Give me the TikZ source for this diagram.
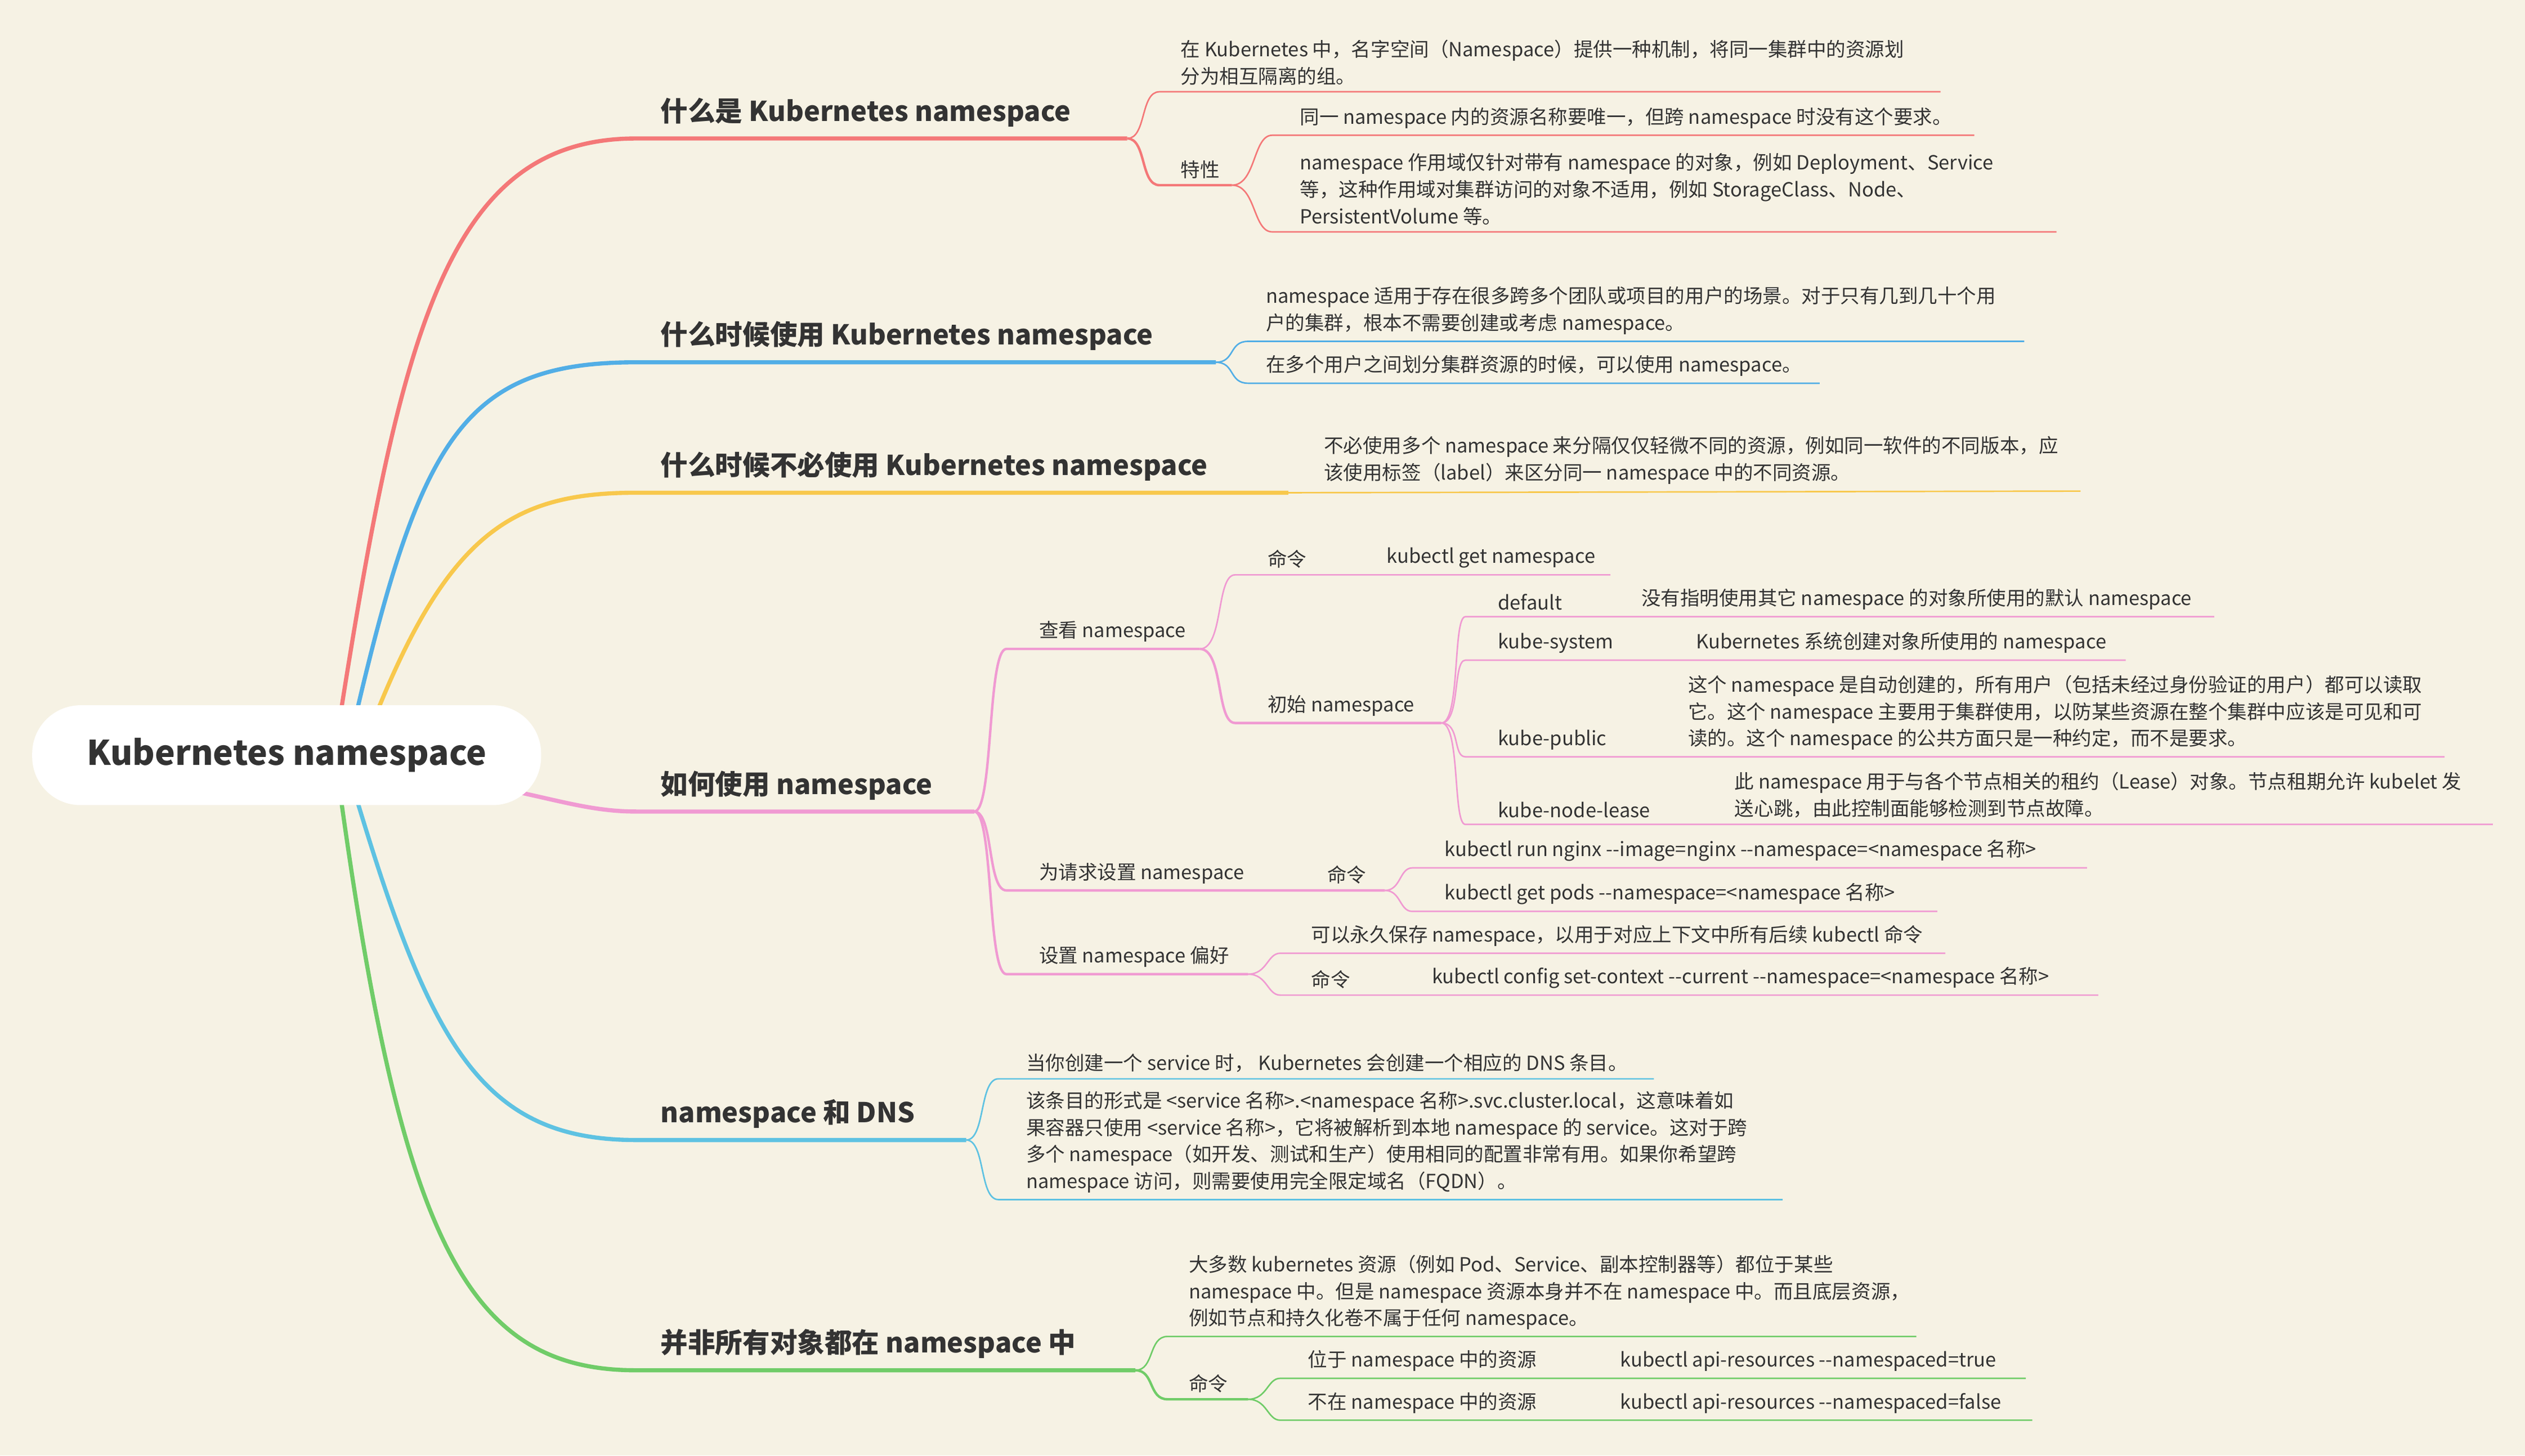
\documentclass[tikz,border=0pt]{standalone}
\usepackage{fontspec}
\setmainfont{Noto Sans CJK SC}
\definecolor{paper}{HTML}{F6F2E4}
\definecolor{cA}{HTML}{F47878}
\definecolor{cB}{HTML}{52AEE6}
\definecolor{cC}{HTML}{F8C84C}
\definecolor{cD}{HTML}{F09AD2}
\definecolor{cE}{HTML}{5EC2E2}
\definecolor{cF}{HTML}{70CC68}
\begin{document}
\begin{tikzpicture}[x=0.03cm,y=-0.03cm,
  lf/.style={inner sep=0pt,anchor=south west,align=left,font=\fontsize{10.3}{14.2}\selectfont,text=black!80,yshift=0.06cm},
  tp/.style={inner sep=0pt,anchor=south west,font=\fontsize{14.5}{17}\selectfont\bfseries,text=black!80,yshift=0.06cm},
  root/.style={fill=white,rounded corners=0.9cm,minimum width=9.48cm,minimum height=1.86cm,font=\fontsize{18}{20}\selectfont\bfseries,text=black!80},
  twig/.style={line width=0.8pt},
  limb/.style={line width=1.3pt},
  trunk/.style={line width=2.2pt}]
\fill[paper] (0,0) rectangle (1568,904);

% root
\draw[trunk,cA] (212,440) .. controls (250,200) and (280,86) .. (395,86) -- (700,86) coordinate (t1e);
\draw[trunk,cB] (222,440) .. controls (262,270) and (290,225) .. (395,225) -- (755,225) coordinate (t2e);
\draw[trunk,cC] (235,440) .. controls (280,330) and (320,306) .. (395,306) -- (800,306) coordinate (t3e);
\draw[trunk,cD] (322,492) .. controls (350,498) and (370,504) .. (395,504) -- (605,504) coordinate (t4e);
\draw[trunk,cE] (222,498) .. controls (268,650) and (300,708) .. (395,708) -- (600,708) coordinate (t5e);
\draw[trunk,cF] (212,498) .. controls (250,770) and (290,851) .. (395,851) -- (705,851) coordinate (t6e);
\node[root] (root) at (178,469) {Kubernetes namespace};

% topics
\node[tp] (t1) at (410,81) {什么是 Kubernetes namespace};
\node[tp] (t2) at (410,220) {什么时候使用 Kubernetes namespace};
\node[tp] (t3) at (410,301) {什么时候不必使用 Kubernetes namespace};
\node[tp] (t4) at (410,499) {如何使用 namespace};
\node[tp] (t5) at (410,703) {namespace 和 DNS};
\node[tp] (t6) at (410,846) {并非所有对象都在 namespace 中};

% topic 1
\draw[twig,cA] (t1e) .. controls +(12,0) and +(-12,0) .. (720,57) -- (1205,57);
\node[lf] (a1) at (733,55) {在 Kubernetes 中，名字空间（Namespace）提供一种机制，将同一集群中的资源划\\分为相互隔离的组。};
\draw[limb,cA] (t1e) .. controls +(12,0) and +(-12,0) .. (720,115) -- (765,115) coordinate (a2e);
\node[lf] (a2) at (733,113) {特性};
\draw[twig,cA] (a2e) .. controls +(15,0) and +(-12,0) .. (790,84) -- (1226,84);
\node[lf] (a21) at (807,82) {同一 namespace 内的资源名称要唯一，但跨 namespace 时没有这个要求。};
\draw[twig,cA] (a2e) .. controls +(15,0) and +(-12,0) .. (790,144) -- (1277,144);
\node[lf] (a22) at (807,142) {namespace 作用域仅针对带有 namespace 的对象，例如 Deployment、Service\\等，这种作用域对集群访问的对象不适用，例如 StorageClass、Node、\\PersistentVolume 等。};

% topic 2
\draw[twig,cB] (t2e) .. controls +(12,0) and +(-12,0) .. (775,212) -- (1257,212);
\node[lf] (b1) at (786,210) {namespace 适用于存在很多跨多个团队或项目的用户的场景。对于只有几到几十个用\\户的集群，根本不需要创建或考虑 namespace。};
\draw[twig,cB] (t2e) .. controls +(12,0) and +(-12,0) .. (775,238) -- (1130,238);
\node[lf] (b2) at (786,236) {在多个用户之间划分集群资源的时候，可以使用 namespace。};

% topic 3
\draw[twig,cC] (t3e) -- (1292,305);
\node[lf] (c1) at (822,303) {不必使用多个 namespace 来分隔仅仅轻微不同的资源，例如同一软件的不同版本，应\\该使用标签（label）来区分同一 namespace 中的不同资源。};

% topic 4
\draw[limb,cD] (t4e) .. controls +(12,0) and +(-12,0) .. (625,403) -- (745,403) coordinate (d1e);
\node[lf] (d1) at (645,401) {查看 namespace};
\draw[twig,cD] (d1e) .. controls +(15,0) and +(-12,0) .. (767,357) -- (845,357) -- (1000,357);
\node[lf] (d11) at (787,355) {命令};
\node[lf] (d11k) at (861,355) {kubectl get namespace};
\draw[limb,cD] (d1e) .. controls +(15,0) and +(-12,0) .. (767,449) -- (895,449) coordinate (d12e);
\node[lf] (d12) at (787,447) {初始 namespace};
\draw[twig,cD] (d12e) .. controls +(12,0) and +(-8,0) .. (910,383) -- (1375,383);
\node[lf] (e1) at (930,381) {default};
\node[lf] (e1t) at (1019,381) {没有指明使用其它 namespace 的对象所使用的默认 namespace};
\draw[twig,cD] (d12e) .. controls +(12,0) and +(-8,0) .. (910,410) -- (1320,410);
\node[lf] (e2) at (930,408) {kube-system};
\node[lf] (e2t) at (1053,408) {Kubernetes 系统创建对象所使用的 namespace};
\draw[twig,cD] (d12e) .. controls +(12,0) and +(-8,0) .. (910,470) -- (1518,470);
\node[lf] (e3) at (930,468) {kube-public};
\node[lf] (e3t) at (1048,468) {这个 namespace 是自动创建的，所有用户（包括未经过身份验证的用户）都可以读取\\它。这个 namespace 主要用于集群使用，以防某些资源在整个集群中应该是可见和可\\读的。这个 namespace 的公共方面只是一种约定，而不是要求。};
\draw[twig,cD] (d12e) .. controls +(12,0) and +(-8,0) .. (910,512) -- (1548,512);
\node[lf] (e4) at (930,510) {kube-node-lease};
\node[lf] (e4t) at (1077,510) {此 namespace 用于与各个节点相关的租约（Lease）对象。节点租期允许 kubelet 发\\送心跳，由此控制面能够检测到节点故障。};
\draw[limb,cD] (t4e) .. controls +(12,0) and +(-12,0) .. (625,553) -- (860,553) coordinate (d2e);
\node[lf] (d2) at (645,551) {为请求设置 namespace};
\node[lf] (d2c) at (824,551) {命令};
\draw[twig,cD] (d2e) .. controls +(10,0) and +(-8,0) .. (877,539) -- (1296,539);
\node[lf] (f1) at (897,537) {kubectl run nginx -{}-image=nginx -{}-namespace=<namespace 名称>};
\draw[twig,cD] (d2e) .. controls +(10,0) and +(-8,0) .. (877,566) -- (1203,566);
\node[lf] (f2) at (897,564) {kubectl get pods -{}-namespace=<namespace 名称>};
\draw[limb,cD] (t4e) .. controls +(12,0) and +(-12,0) .. (625,605) -- (775,605) coordinate (d3e);
\node[lf] (d3) at (645,603) {设置 namespace 偏好};
\draw[twig,cD] (d3e) .. controls +(12,0) and +(-8,0) .. (795,592) -- (1208,592);
\node[lf] (g1) at (814,590) {可以永久保存 namespace，以用于对应上下文中所有后续 kubectl 命令};
\draw[twig,cD] (d3e) .. controls +(12,0) and +(-8,0) .. (795,618) -- (870,618) -- (1303,618);
\node[lf] (g2) at (814,616) {命令};
\node[lf] (g2k) at (889,616) {kubectl config set-context -{}-current -{}-namespace=<namespace 名称>};

% topic 5
\draw[twig,cE] (t5e) .. controls +(12,0) and +(-12,0) .. (620,670) -- (1027,670);
\node[lf] (h1) at (637,668) {当你创建一个 service 时， Kubernetes 会创建一个相应的 DNS 条目。};
\draw[twig,cE] (t5e) .. controls +(12,0) and +(-12,0) .. (620,745) -- (1107,745);
\node[lf] (h2) at (637,743) {该条目的形式是 <service 名称>.<namespace 名称>.svc.cluster.local，这意味着如\\果容器只使用 <service 名称>，它将被解析到本地 namespace 的 service。这对于跨\\多个 namespace（如开发、测试和生产）使用相同的配置非常有用。如果你希望跨\\namespace 访问，则需要使用完全限定域名（FQDN）。};

% topic 6
\draw[twig,cF] (t6e) .. controls +(12,0) and +(-12,0) .. (725,830) -- (1190,830);
\node[lf] (k1) at (738,828) {大多数 kubernetes 资源（例如 Pod、Service、副本控制器等）都位于某些\\namespace 中。但是 namespace 资源本身并不在 namespace 中。而且底层资源，\\例如节点和持久化卷不属于任何 namespace。};
\draw[limb,cF] (t6e) .. controls +(12,0) and +(-12,0) .. (725,869) -- (775,869) coordinate (k2e);
\node[lf] (k2) at (738,867) {命令};
\draw[twig,cF] (k2e) .. controls +(12,0) and +(-8,0) .. (795,856) -- (990,856) -- (1258,856);
\node[lf] (k21) at (812,854) {位于 namespace 中的资源};
\node[lf] (k21k) at (1006,854) {kubectl api-resources -{}-namespaced=true};
\draw[twig,cF] (k2e) .. controls +(12,0) and +(-8,0) .. (795,882) -- (990,882) -- (1262,882);
\node[lf] (k22) at (812,880) {不在 namespace 中的资源};
\node[lf] (k22k) at (1006,880) {kubectl api-resources -{}-namespaced=false};
\end{tikzpicture}
\end{document}
